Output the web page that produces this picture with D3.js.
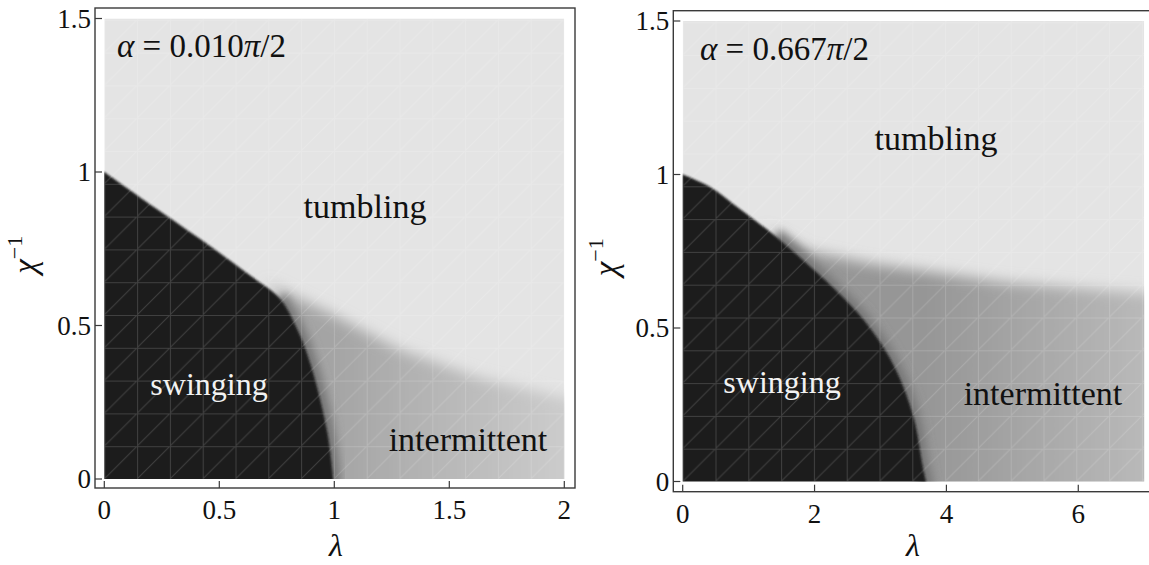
<!DOCTYPE html>
<html>
<head>
<meta charset="utf-8">
<script src="https://cdn.jsdelivr.net/npm/d3@7"></script>
<style>
  body { margin: 0; background: #fff; }
  text { font-family: "Liberation Serif", "DejaVu Serif", serif; fill: #111; }
</style>
</head>
<body>
<script>
// values: [lambda, chi^-1]
const chiTicks = [0, 0.5, 1, 1.5];
const chiTickLabels = ["0", "0.5", "1", "1.5"];
const lambdaTicksA = [0, 0.5, 1, 1.5, 2];
const lambdaTickLabelsA = ["0", "0.5", "1", "1.5", "2"];
const lambdaTicksB = [0, 2, 4, 6];
const lambdaTickLabelsB = ["0", "2", "4", "6"];

// alpha = 0.010 pi/2
const swingA = [[0, 1.0], [0.17, 0.91], [0.42, 0.78], [0.63, 0.665], [0.76, 0.59], [0.84, 0.485], [0.90, 0.365], [0.97, 0.15], [0.995, 0]];
const tumbleA = [[0.70, 0.64], [0.98, 0.54], [1.29, 0.42], [1.63, 0.33], [2.0, 0.265]];
// alpha = 0.667 pi/2
const swingB = [[0, 1.0], [0.41, 0.96], [0.79, 0.9], [1.40, 0.8], [1.93, 0.7], [2.43, 0.6], [2.84, 0.5], [3.22, 0.37], [3.50, 0.21], [3.64, 0.05], [3.69, 0]];
const tumbleB = [[1.2, 0.83], [1.9, 0.75], [2.84, 0.71], [4.0, 0.675], [4.86, 0.65], [6.0, 0.63], [7.0, 0.614]];

const W = 1149, H = 565;
const svg = d3.select("body").append("svg").attr("width", W).attr("height", H);
const defs = svg.append("defs");

defs.append("filter").attr("id", "blurSoft").attr("x", "-20%").attr("y", "-20%").attr("width", "140%").attr("height", "140%")
  .append("feGaussianBlur").attr("stdDeviation", 7);
defs.append("filter").attr("id", "blurHalo").attr("x", "-20%").attr("y", "-20%").attr("width", "140%").attr("height", "140%")
  .append("feGaussianBlur").attr("stdDeviation", 4);
defs.append("filter").attr("id", "blurEdge").attr("x", "-5%").attr("y", "-5%").attr("width", "110%").attr("height", "110%")
  .append("feGaussianBlur").attr("stdDeviation", 0.9);

const panels = [
  {id: "A", swing: swingA, tumble: tumbleA, xDomain: [0, 2], xRange: [104.3, 564.3], yRange: [479, 18.5],
   frame: [95, 8, 480, 480], xTicks: lambdaTicksA, xLabels: lambdaTickLabelsA,
   grad: ["#a4a4a4", "#cccccc"], alpha: "0.010", alphaPos: [117, 57],
   labels: {tumbling: [365, 218], swinging: [209, 395], intermittent: [468, 451]}, xl: 336, yl: 36},
  {id: "B", swing: swingB, tumble: tumbleB, xDomain: [0, 7], xRange: [682.7, 1144.2], yRange: [481.5, 21],
   frame: [673.3, 10.7, 520, 481], xTicks: lambdaTicksB, xLabels: lambdaTickLabelsB,
   grad: ["#969696", "#b9b9b9"], alpha: "0.667", alphaPos: [700, 60],
   labels: {tumbling: [936, 150], swinging: [782, 393], intermittent: [1043, 405]}, xl: 913, yl: 617}
];

panels.forEach(p => {
  const x = d3.scaleLinear().domain(p.xDomain).range(p.xRange);
  const y = d3.scaleLinear().domain([0, 1.5]).range(p.yRange);
  const x0 = x(p.xDomain[0]), x1 = x(p.xDomain[1]), yT = y(1.5), yB = y(0);
  const pad = 25;

  defs.append("clipPath").attr("id", "clip" + p.id)
    .append("rect").attr("x", x0).attr("y", yT).attr("width", x1 - x0).attr("height", yB - yT);

  const g = defs.append("linearGradient").attr("id", "grad" + p.id)
    .attr("gradientUnits", "userSpaceOnUse")
    .attr("x1", x(p.swing[p.swing.length - 1][0])).attr("x2", x1).attr("y1", 0).attr("y2", 0);
  g.append("stop").attr("offset", 0).attr("stop-color", p.grad[0]);
  g.append("stop").attr("offset", 1).attr("stop-color", p.grad[1]);

  const pat = defs.append("pattern").attr("id", "mesh" + p.id).attr("patternUnits", "userSpaceOnUse")
    .attr("x", x0).attr("y", yB).attr("width", 32.8).attr("height", 32.8);
  pat.append("path").attr("d", "M0,0.5H32.8M0.5,0V32.8M0,32.8L32.8,0")
    .attr("stroke", "#fff").attr("stroke-opacity", 0.16).attr("fill", "none").attr("stroke-width", 1);

  const plot = svg.append("g").attr("clip-path", "url(#clip" + p.id + ")");
  plot.append("rect").attr("x", x0).attr("y", yT).attr("width", x1 - x0).attr("height", yB - yT).attr("fill", "#e4e4e4");

  const line = d3.line().x(d => d[0]).y(d => d[1]).curve(d3.curveCatmullRom);
  const tumblePx = p.tumble.map(d => [x(d[0]), y(d[1])]);
  const startChi = p.tumble[0][1];
  const lowerSwing = p.swing.filter(d => d[1] <= startChi).map(d => [x(d[0]), y(d[1])]);

  // intermittent zone
  const inter = tumblePx.concat([[x1 + pad, tumblePx[tumblePx.length - 1][1]], [x1 + pad, yB + pad],
    [lowerSwing[lowerSwing.length - 1][0], yB + pad]], lowerSwing.slice().reverse());
  plot.append("path").attr("d", "M" + inter.join("L") + "Z")
    .attr("fill", "url(#grad" + p.id + ")").attr("filter", "url(#blurSoft)");

  // darker band along the swing edge
  plot.append("path").attr("d", line(lowerSwing.concat([[lowerSwing[lowerSwing.length - 1][0], yB + pad]])))
    .attr("fill", "none").attr("stroke", "#767676").attr("stroke-width", 16).attr("filter", "url(#blurHalo)");

  // swinging zone
  const swingPx = p.swing.map(d => [x(d[0]), y(d[1])]);
  const swingD = "M" + [x0 - pad, yB + pad] + "L" + [x0 - pad, swingPx[0][1]] + "L" +
    line(swingPx).slice(1) + "L" + [swingPx[swingPx.length - 1][0], yB + pad] + "Z";
  plot.append("path").attr("d", swingD).attr("fill", "#1c1c1c").attr("filter", "url(#blurEdge)");

  plot.append("rect").attr("x", x0).attr("y", yT).attr("width", x1 - x0).attr("height", yB - yT)
    .attr("fill", "url(#mesh" + p.id + ")");

  // frame and ticks
  const [fx, fy, fw, fh] = p.frame;
  svg.append("rect").attr("x", fx).attr("y", fy).attr("width", fw).attr("height", fh)
    .attr("fill", "none").attr("stroke", "#3a3a3a").attr("stroke-width", 1.4);

  p.xTicks.forEach((t, i) => {
    svg.append("line").attr("x1", x(t)).attr("x2", x(t)).attr("y1", fy + fh).attr("y2", fy + fh - 7)
      .attr("stroke", "#3a3a3a").attr("stroke-width", 1.2);
    svg.append("text").attr("x", x(t)).attr("y", fy + fh + 31).attr("text-anchor", "middle")
      .attr("font-size", 27).text(p.xLabels[i]);
  });
  chiTicks.forEach((t, i) => {
    svg.append("line").attr("x1", fx).attr("x2", fx + 7).attr("y1", y(t)).attr("y2", y(t))
      .attr("stroke", "#3a3a3a").attr("stroke-width", 1.2);
    svg.append("text").attr("x", fx - 4).attr("y", y(t) + 9).attr("text-anchor", "end")
      .attr("font-size", 27).text(chiTickLabels[i]);
  });

  // axis titles
  svg.append("text").attr("x", p.xl).attr("y", 556).attr("text-anchor", "middle")
    .attr("font-size", 32).attr("font-style", "italic").text("λ");
  const yt = svg.append("text").attr("transform", "translate(" + p.yl + "," + (y(0.75) + 6) + ") rotate(-90)")
    .attr("text-anchor", "middle").attr("font-size", 33);
  yt.append("tspan").attr("font-style", "italic").text("χ");
  yt.append("tspan").attr("dy", -14).attr("font-size", 22).text("−1");

  // annotations
  const a = svg.append("text").attr("x", p.alphaPos[0]).attr("y", p.alphaPos[1]).attr("font-size", 33);
  a.append("tspan").attr("font-style", "italic").text("α");
  a.append("tspan").text(" = " + p.alpha);
  a.append("tspan").attr("font-style", "italic").text("π");
  a.append("tspan").text("/2");

  svg.append("text").attr("x", p.labels.tumbling[0]).attr("y", p.labels.tumbling[1])
    .attr("text-anchor", "middle").attr("font-size", 34).text("tumbling");
  svg.append("text").attr("x", p.labels.swinging[0]).attr("y", p.labels.swinging[1])
    .attr("text-anchor", "middle").attr("font-size", 32).style("fill", "#f2f2f2").text("swinging");
  svg.append("text").attr("x", p.labels.intermittent[0]).attr("y", p.labels.intermittent[1])
    .attr("text-anchor", "middle").attr("font-size", 34).text("intermittent");
});
</script>
</body>
</html>
